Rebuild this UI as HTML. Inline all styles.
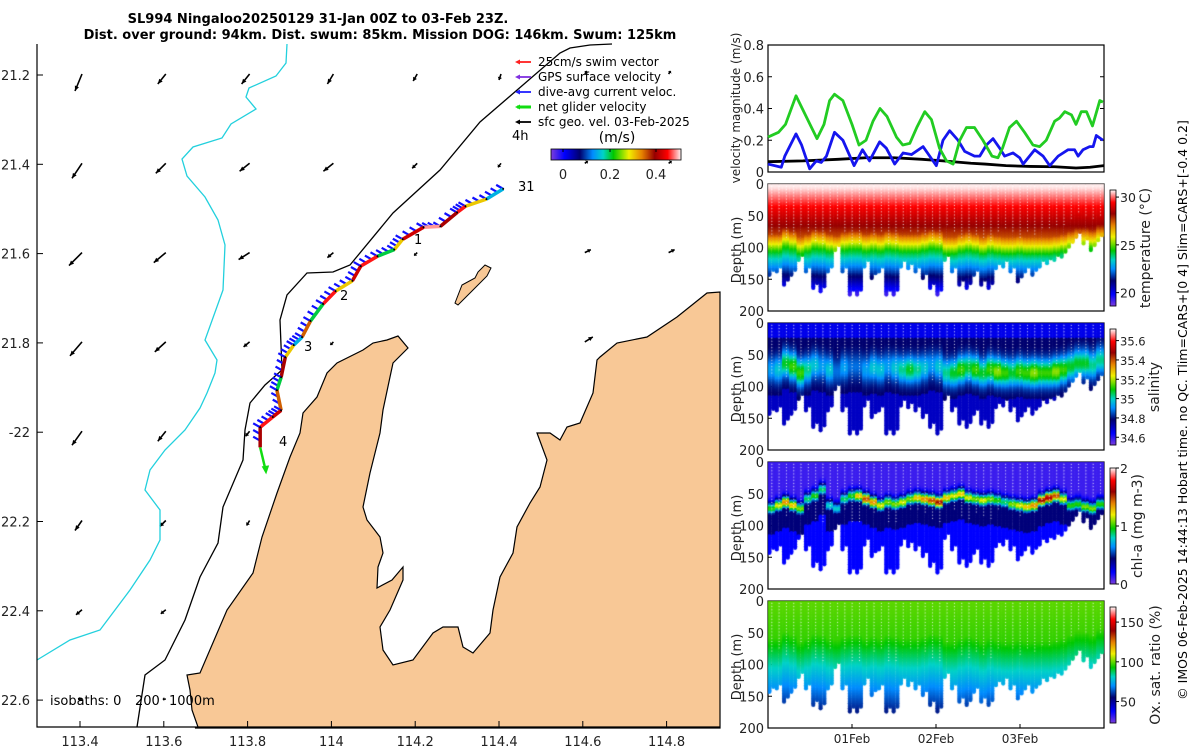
<!DOCTYPE html>
<html><head><meta charset="utf-8">
<style>
html,body{margin:0;padding:0;background:#fff;}
body{width:1200px;height:750px;position:relative;overflow:hidden;font-family:"DejaVu Sans","Liberation Sans",sans-serif;}
svg text{font-family:"DejaVu Sans","Liberation Sans",sans-serif;}
canvas{position:absolute;left:0;top:0;}
</style></head>
<body>
<svg id="main" width="1200" height="750" style="position:absolute;left:0;top:0" xmlns="http://www.w3.org/2000/svg">
<text x="318" y="23" font-size="13" font-weight="bold" text-anchor="middle">SL994 Ningaloo20250129 31-Jan 00Z to 03-Feb 23Z.</text>
<text x="380" y="39" font-size="13" font-weight="bold" text-anchor="middle">Dist. over ground: 94km. Dist. swum: 85km. Mission DOG: 146km. Swum: 125km</text>
<g id="map"></g>
<g id="right"></g>
<text transform="translate(1187,410) rotate(-90)" font-size="12.5" text-anchor="middle">© IMOS 06-Feb-2025 14:44:13 Hobart time. no QC. Tlim=CARS+[0 4] Slim=CARS+[-0.4 0.2]</text>
</svg>
<canvas id="cv" width="1200" height="750"></canvas>
<script>
// ---------- data ----------
const greenT=[0,3,5,8,12,14,16,17.6,19,21.4,24,26,28,30,32,34,36.7,38.5,40.5,42.5,44.8,46.7,49,51,52.9,54.8,56.7,59,61.4,64,65.7,67,69,71,73.3,75.7,77.6,79.5,81.9,83.3,84.8,86.7,88,89.5,91,92.7,94.8,95.7];
const greenV=[0.22,0.25,0.30,0.48,0.30,0.21,0.30,0.45,0.49,0.45,0.30,0.17,0.20,0.32,0.40,0.35,0.22,0.17,0.18,0.28,0.38,0.33,0.15,0.07,0.05,0.20,0.28,0.28,0.20,0.10,0.09,0.15,0.28,0.32,0.25,0.17,0.16,0.20,0.32,0.34,0.38,0.36,0.30,0.38,0.38,0.29,0.45,0.44];
const blueT=[0,3.8,4.8,8,9.6,11.9,13.8,15.2,16.7,19,21.4,24.6,27,29,31.9,33.8,36.2,38.6,41,44.3,46.2,48.1,50,51.9,54.3,56.2,59,60.5,62.4,64.3,66.2,67.6,70,71.9,72.9,76.2,78.6,80.5,82.9,85.7,87.6,88.6,90,91.9,92.9,93.8,95.7];
const blueV=[0.05,0.03,0.10,0.24,0.17,0.02,0.07,0.06,0.10,0.25,0.20,0.04,0.14,0.07,0.19,0.15,0.05,0.12,0.11,0.16,0.10,0.04,0.20,0.26,0.20,0.13,0.10,0.10,0.17,0.21,0.15,0.10,0.12,0.09,0.05,0.14,0.10,0.04,0.10,0.14,0.14,0.10,0.14,0.16,0.16,0.23,0.20];
const blackT=[0,10,20,28,36,44,50,58,62,68,75,82,88,92,96];
const blackV=[0.065,0.07,0.08,0.09,0.09,0.08,0.07,0.055,0.05,0.04,0.035,0.033,0.025,0.03,0.04];
const velTicks=[0,0.2,0.4,0.6,0.8];
const dayTicks=[24,48,72];
const dayLabels=["01Feb","02Feb","03Feb"];
const diveMax=[145,140,160,145,120,140,165,170,140,105,140,175,175,130,150,140,175,175,130,135,140,150,165,175,120,140,160,165,145,160,165,135,130,140,155,140,145,130,125,120,115,100,85,95,105,90];
const thermo=[95,95,85,90,100,95,88,90,95,98,92,90,90,95,92,95,90,92,95,95,95,92,88,90,100,100,95,92,95,100,95,98,100,100,98,100,100,100,100,98,95,90,85,85,88,80];
const salPeak=[0.15,0.2,0.3,0.35,0.35,0.25,0.2,0.15,0.2,0.1,0.15,0.1,0.1,0.15,0.2,0.2,0.15,0.2,0.25,0.3,0.25,0.2,0.15,0.2,0.25,0.3,0.35,0.3,0.35,0.3,0.35,0.4,0.35,0.3,0.35,0.35,0.4,0.35,0.35,0.4,0.35,0.3,0.3,0.3,0.25,0.25];
const chlDepth=[75,70,65,70,75,60,55,45,70,75,60,55,55,60,65,70,65,68,65,60,58,60,62,65,58,55,52,58,60,62,60,62,65,68,70,72,70,62,58,55,60,70,68,72,75,68];
const chlPeak=[0.9,1.1,1.3,1.2,1.0,0.8,0.9,0.8,0.7,0.7,0.8,0.9,1.2,1.4,1.3,1.1,1.0,1.0,1.1,1.0,1.2,1.3,1.4,1.5,1.2,1.1,1.2,1.1,1.0,1.1,1.0,0.9,0.8,1.0,1.1,1.2,1.3,1.5,1.6,1.4,1.1,0.9,0.9,1.0,1.0,0.9];
const trackLon=[114.41,114.37,114.32,114.30,114.26,114.22,114.17,114.15,114.11,114.07,114.05,114.01,113.98,113.95,113.93,113.91,113.89,113.88,113.87,113.88,113.86,113.83,113.83];
const trackLat=[21.455,21.478,21.494,21.508,21.539,21.541,21.568,21.591,21.606,21.628,21.661,21.684,21.713,21.751,21.787,21.805,21.832,21.877,21.906,21.951,21.966,21.989,22.034];
const trackSpeed=[0.15,0.3,0.45,0.4,0.48,0.42,0.3,0.2,0.45,0.42,0.3,0.45,0.2,0.35,0.15,0.3,0.4,0.2,0.35,0.42,0.45,0.4,0.46];
const lonTicks=[113.4,113.6,113.8,114,114.2,114.4,114.6,114.8];
const latTicks=[21.2,21.4,21.6,21.8,22,22.2,22.4,22.6];
const latLabels=["21.2","21.4","21.6","21.8","-22","22.2","22.4","22.6"];
const gridLon=[113.4,113.6,113.8,114.0,114.2,114.4,114.6,114.8];
const gridLat=[21.2,21.4,21.6,21.8,22.0,22.2,22.4,22.6];
const vecU=[[-0.07,-0.08,-0.08,-0.06,-0.04,-0.02,0.02,0.02],[-0.10,-0.10,-0.10,-0.10,-0.05,-0.03,0.03,0.03],[-0.13,-0.12,-0.11,-0.06,-0.03,0.0,0.06,0.06],[-0.12,-0.11,-0.06,-0.03,0.0,0.0,0.08,0.08],[-0.10,-0.08,-0.04,-0.02,0.0,0.0,0.08,0.08],[-0.07,-0.06,-0.03,0.0,0.0,0.0,0.06,0.06],[-0.06,-0.05,-0.02,0.0,0.0,0.0,0.06,0.06],[-0.04,-0.03,0.0,0.0,0.0,0.0,0.0,0.0]];
const vecV=[[-0.17,-0.10,-0.10,-0.10,-0.07,-0.06,0.03,0.03],[-0.15,-0.10,-0.08,-0.08,-0.05,-0.04,0.02,0.02],[-0.13,-0.10,-0.07,-0.05,-0.03,0.0,0.03,0.03],[-0.14,-0.10,-0.05,-0.03,0.0,0.0,0.05,0.05],[-0.14,-0.10,-0.05,-0.02,0.0,0.0,0.05,0.05],[-0.10,-0.06,-0.05,0.0,0.0,0.0,0.06,0.06],[-0.05,-0.04,-0.05,0.0,0.0,0.0,0.06,0.06],[0.0,0.0,0.06,0.0,0.0,0.0,0.0,0.0]];
const landW="195,728 198,727 192,710 190,690 187,675 200,673 227,610 253,573 262,537 277,493 290,457 300,433 303,413 317,397 327,373 337,363 363,350 373,343 387,340 398,336 408,348 393,363 390,377 383,410 380,433 370,473 363,507 367,520 380,537 383,553 378,567 377,588 392,580 403,567 403,580 390,610 380,627 383,650 393,665 413,660 433,633 443,627 458,627 463,647 473,653 490,633 493,610 500,577 513,553 517,527 530,503 540,487 547,460 537,433 550,433 560,440 567,427 580,423 593,393 597,360 600,357 617,343 647,337 677,317 707,293 720,292 720,728";
const island="455,303 462,285 475,278 478,272 485,265 491,268 487,276 473,290 458,305";
const iso200="612,44 590,45 570,48 560,53 480,122 440,170 393,213 350,265 333,272 307,273 287,295 280,320 282,370 265,385 250,403 245,430 243,460 223,507 218,543 200,577 185,620 165,660 145,675 137,727";
const iso1000="287,44 286,63 276,76 249,88 246,97 256,109 231,124 222,138 193,147 182,159 187,176 205,197 218,220 225,245 223,290 205,340 217,360 215,373 207,393 200,408 185,430 165,450 150,470 145,490 160,510 160,540 150,560 130,590 115,610 100,630 70,640 37,660";

const NS="http://www.w3.org/2000/svg";
function mk(parent,tag,attrs){const e=document.createElementNS(NS,tag);for(const k in attrs)e.setAttribute(k,attrs[k]);parent.appendChild(e);return e;}
const stops=[[0,[120,60,220]],[0.1,[0,0,255]],[0.22,[0,0,110]],[0.32,[0,140,255]],[0.4,[0,210,200]],[0.48,[0,200,0]],[0.6,[240,240,0]],[0.7,[230,130,0]],[0.8,[150,0,0]],[0.9,[255,0,0]],[1,[255,235,235]]];
function cmap(t){t=Math.max(0,Math.min(1,t));for(let i=1;i<stops.length;i++){if(t<=stops[i][0]){const a=stops[i-1],b=stops[i];const f=(t-a[0])/(b[0]-a[0]);return 'rgb('+a[1].map((v,j)=>Math.round(v+(b[1][j]-v)*f)).join(',')+')';}}return 'rgb(255,235,235)';}

// ---------- map ----------
const map=document.getElementById('map');
const MX0=37,MX1=720,MY0=44,MY1=727;
const lonX=lon=>80+(lon-113.4)/0.2*83.8;
const latY=lat=>75+(lat-21.2)/0.2*89.3;
for(let r=0;r<gridLat.length;r++)for(let c=0;c<gridLon.length;c++){
  const u=vecU[r][c],v=vecV[r][c];if(u===0&&v===0)continue;
  const x0=lonX(gridLon[c])+2,y0=latY(gridLat[r])-1;
  const x1=x0+u*100,y1=y0-v*100;
  const g=mk(map,'g',{});
  
  
  mk(g,'line',{x1:x0,y1:y0,x2:x1,y2:y1,stroke:'#000','stroke-width':1.6});
  const L=Math.hypot(x1-x0,y1-y0),ux=(x1-x0)/L,uy=(y1-y0)/L,h=Math.min(5,L*0.45);
  mk(g,'polygon',{points:`${x1},${y1} ${x1-ux*h-uy*2.2},${y1-uy*h+ux*2.2} ${x1-ux*h+uy*2.2},${y1-uy*h-ux*2.2}`,fill:'#000'});
}
const land=mk(map,'polygon',{points:landW,fill:'#f8c896',stroke:'#000','stroke-width':1.2});

const isl=mk(map,'polygon',{points:island,fill:'#f8c896',stroke:'#000','stroke-width':1});

const i2=mk(map,'polyline',{points:iso200,fill:'none',stroke:'#000','stroke-width':1.3});

const i1=mk(map,'polyline',{points:iso1000,fill:'none',stroke:'#22d0dd','stroke-width':1.3});

for(let i=0;i<trackLon.length-1;i++){
  const x0=lonX(trackLon[i]),y0=latY(trackLat[i]),x1=lonX(trackLon[i+1]),y1=latY(trackLat[i+1]);
  for(let k=0;k<3;k++){
    const f=k/3,x=x0+(x1-x0)*f,y=y0+(y1-y0)*f;
    const b=mk(map,'line',{x1:x,y1:y,x2:x-7,y2:y-4,stroke:'#1010ff','stroke-width':2.2});
    
  }
  const s=mk(map,'line',{x1:x0,y1:y0,x2:x1,y2:y1,stroke:cmap((trackSpeed[i]+0.05)/0.55),'stroke-width':3.5});
  
  const d=mk(map,'circle',{cx:x0,cy:y0,r:1,fill:'#000'});
  
}
{const n=trackLon.length-1,x=lonX(trackLon[n]),y=latY(trackLat[n]);
 const g=mk(map,'g',{});
 mk(g,'line',{x1:x,y1:y,x2:x+5,y2:y+21,stroke:'#11dd11','stroke-width':2.5});
 mk(g,'polygon',{points:`${x+6},${y+27} ${x+1.5},${y+19} ${x+9},${y+18}`,fill:'#11dd11'});}
[["31",518,191],["1",414,244],["2",340,300],["3",304,351],["4",279,446],["4h",512,140]].forEach(a=>{
  const t=mk(map,'text',{x:a[1],y:a[2],'font-size':13});t.textContent=a[0];
  });
const fr=mk(map,'polyline',{points:`${MX0},${MY0} ${MX0},${MY1} ${MX1},${MY1}`,fill:'none',stroke:'#000','stroke-width':1.2});

lonTicks.forEach(l=>{const x=lonX(l);mk(map,'line',{x1:x,y1:MY1,x2:x,y2:MY1-6,stroke:'#000'});
  const t=mk(map,'text',{x:x,y:746,'font-size':13,'text-anchor':'middle',fill:'#222'});t.textContent=String(l);
  });
latTicks.forEach((l,i)=>{const y=latY(l);mk(map,'line',{x1:MX0,y1:y,x2:MX0+6,y2:y,stroke:'#000'});
  const t=mk(map,'text',{x:30,y:y+5,'font-size':13,'text-anchor':'end',fill:'#222'});t.textContent=latLabels[i];
  });
[["isobaths: 0",50],["200",135],["1000m",169]].forEach(a=>{const t=mk(map,'text',{x:a[1],y:705,'font-size':13});t.textContent=a[0];
 });
const leg=[["25cm/s swim vector","#ff2020"],["GPS surface velocity","#8030e0"],["dive-avg current veloc.","#2020ff"],["net glider velocity","#11dd11"],["sfc geo. vel. 03-Feb-2025","#000"]];
leg.forEach((e,i)=>{const y=62+i*15;const g=mk(map,'g',{});
  
  mk(g,'line',{x1:517,y1:y,x2:531,y2:y,stroke:e[1],'stroke-width':i==3?3:1.8});
  mk(g,'polygon',{points:`${515},${y} ${520},${y-2.5} ${520},${y+2.5}`,fill:e[1]});
  const t=mk(g,'text',{x:538,y:y+4,'font-size':12});t.textContent=e[0];});
{const t=mk(map,'text',{x:617,y:142,'font-size':14,'text-anchor':'middle'});t.textContent='(m/s)';
 
 const g=mk(map,'g',{});
 for(let i=0;i<130;i++)mk(g,'rect',{x:551+i,y:149,width:1.2,height:11,fill:cmap(i/129)});
 mk(g,'rect',{x:551,y:149,width:130,height:11,fill:'none',stroke:'#000','stroke-width':0.8});
 [[0,563],[0.2,610],[0.4,656]].forEach(a=>{mk(g,'line',{x1:a[1],y1:149,x2:a[1],y2:152,stroke:'#000'});
  const t=mk(g,'text',{x:a[1],y:179,'font-size':13,'text-anchor':'middle',fill:'#222'});t.textContent=String(a[0]);});}

// ---------- right panels ----------
const R=document.getElementById('right');
const PX0=768,PX1=1104;
const tX=h=>PX0+h/96*(PX1-PX0);
{const y0=45,y1=172,vY=v=>y1-v/0.8*(y1-y0);
 const ax=mk(R,'rect',{x:PX0,y:y0,width:PX1-PX0,height:y1-y0,fill:'none',stroke:'#000','stroke-width':1.2});
 
 velTicks.forEach(v=>{const y=vY(v);mk(R,'line',{x1:PX0,y1:y,x2:PX0+4,y2:y,stroke:'#000'});mk(R,'line',{x1:PX1,y1:y,x2:PX1-4,y2:y,stroke:'#000'});
  const t=mk(R,'text',{x:764,y:y+5,'font-size':13,'text-anchor':'end',fill:'#222'});t.textContent=String(v);
  });
 const t=mk(R,'text',{transform:'translate(740,108) rotate(-90)','font-size':12,'text-anchor':'middle',fill:'#222'});t.textContent='velocity magnitude (m/s)';
 
 [[blackT,blackV,'#000','sfc-geo-velocity-line'],[blueT,blueV,'#1515ee','dive-avg-current-line'],[greenT,greenV,'#22cc22','net-glider-velocity-line']].forEach(s=>{
  const p=mk(R,'polyline',{points:s[0].map((h,i)=>tX(h)+','+vY(s[1][i])).join(' '),fill:'none',stroke:s[2],'stroke-width':2.8,'stroke-linejoin':'round'});
  });
}
const panels=[
 {top:184,name:'temperature',lab:'temperature (°C)',lx:1150,vmin:18.6,vmax:30.74,ticks:[[30,'30'],[25,'25'],[20,'20']],
  f:(i,d)=>{const T=thermo[i];const a=T-15;if(d<a)return 31-d*0.04;const b=31-a*0.04;if(d<T+15)return b-(d-a)*0.12;return b-30*0.12-(d-T-15)*0.075;}},
 {top:323,name:'salinity',lab:'salinity',lx:1159,vmin:34.52,vmax:35.72,ticks:[[35.6,'35.6'],[35.4,'35.4'],[35.2,'35.2'],[35,'35'],[34.8,'34.8'],[34.6,'34.6']],
  f:(i,d)=>{const p=salPeak[i];const c=thermo[i]-20;const base=d<25?34.66:34.78;return base+p*Math.exp(-Math.pow((d-c)/20,2))-(d>c+40?0.08:0);}},
 {top:462,name:'chlorophyll',lab:'chl-a (mg m-3)',lx:1142,vmin:0,vmax:2,ticks:[[2,'2'],[1,'1'],[0,'0']],
  f:(i,d)=>{const c=chlDepth[i];let v=0.1+chlPeak[i]*Math.exp(-Math.pow((d-c)/9,2));if(d>c+8&&d<c+40)v=Math.max(v,0.42);else if(d>=c+40)v=Math.max(v,0.2);return v;}},
 {top:601,name:'oxygen',lab:'Ox. sat. ratio (%)',lx:1160,vmin:23,vmax:169,ticks:[[150,'150'],[100,'100'],[50,'50']],
  f:(i,d)=>{const T=thermo[i]-35;if(d<T)return 100-d*0.05;return 100-T*0.05-(d-T)*0.33;}}
];
const cv=document.getElementById('cv').getContext('2d');
panels.forEach(P=>{
 const y0=P.top,dY=d=>y0+d/200*127;
 const ax=mk(R,'rect',{x:PX0,y:y0,width:PX1-PX0,height:127,fill:'none',stroke:'#000','stroke-width':1.2});
 
 [0,50,100,150,200].forEach(d=>{const y=dY(d);mk(R,'line',{x1:PX0,y1:y,x2:PX0+4,y2:y,stroke:'#000'});
  const t=mk(R,'text',{x:764,y:y+5,'font-size':13,'text-anchor':'end',fill:'#222'});t.textContent=String(d);
  });
 const yt=mk(R,'text',{transform:`translate(741,${y0+66}) rotate(-90)`,'font-size':13,'text-anchor':'middle',fill:'#222'});yt.textContent='Depth (m)';
 
 const cb0=y0+6,cb1=y0+122,cY=v=>cb1-(v-P.vmin)/(P.vmax-P.vmin)*(cb1-cb0);
 const g=mk(R,'g',{});
 for(let k=0;k<116;k++)mk(g,'rect',{x:1110,y:cb1-k-1,width:6,height:1.3,fill:cmap(k/115)});
 mk(g,'rect',{x:1110,y:cb0,width:6,height:cb1-cb0,fill:'none',stroke:'#000','stroke-width':0.8});
 P.ticks.forEach(tk=>{const y=cY(tk[0]);mk(g,'line',{x1:1116,y1:y,x2:1119,y2:y,stroke:'#000'});
  const t=mk(g,'text',{x:1120,y:y+5,'font-size':P.name==='salinity'?11.5:12.5,fill:'#222'});t.textContent=tk[1];});
 const lt=mk(R,'text',{transform:`translate(${P.lx},${y0+64}) rotate(-90)`,'font-size':14,'text-anchor':'middle',fill:'#222'});lt.textContent=P.lab;
 
 cv.save();cv.beginPath();cv.rect(PX0,y0,PX1-PX0,127);cv.clip();
 const n=diveMax.length,w=(PX1-PX0)/n;
 for(let i=0;i<n;i++){
  const xc=PX0+(i+0.5)*w;
  [-2.2,1.6].forEach((off,k)=>{
   const md=diveMax[i]-(k?8:0);
   for(let d=0;d<=md;d+=2.6){
    const v=P.f(i,d);cv.fillStyle=cmap((v-P.vmin)/(P.vmax-P.vmin));
    cv.beginPath();cv.arc(xc+off,dY(d),2.1,0,6.3);cv.fill();}
  });
  cv.fillStyle='rgba(255,255,255,0.85)';
  for(let d=3;d<diveMax[i]*0.55;d+=5){cv.fillRect(xc-0.3,dY(d),1,1);}
 }
 cv.restore();
});
dayTicks.forEach((h,i)=>{const x=tX(h);mk(R,'line',{x1:x,y1:728,x2:x,y2:724,stroke:'#000'});
 const t=mk(R,'text',{x:x,y:743,'font-size':12,'text-anchor':'middle',fill:'#222'});t.textContent=dayLabels[i];
 });
</script>
</body></html>
